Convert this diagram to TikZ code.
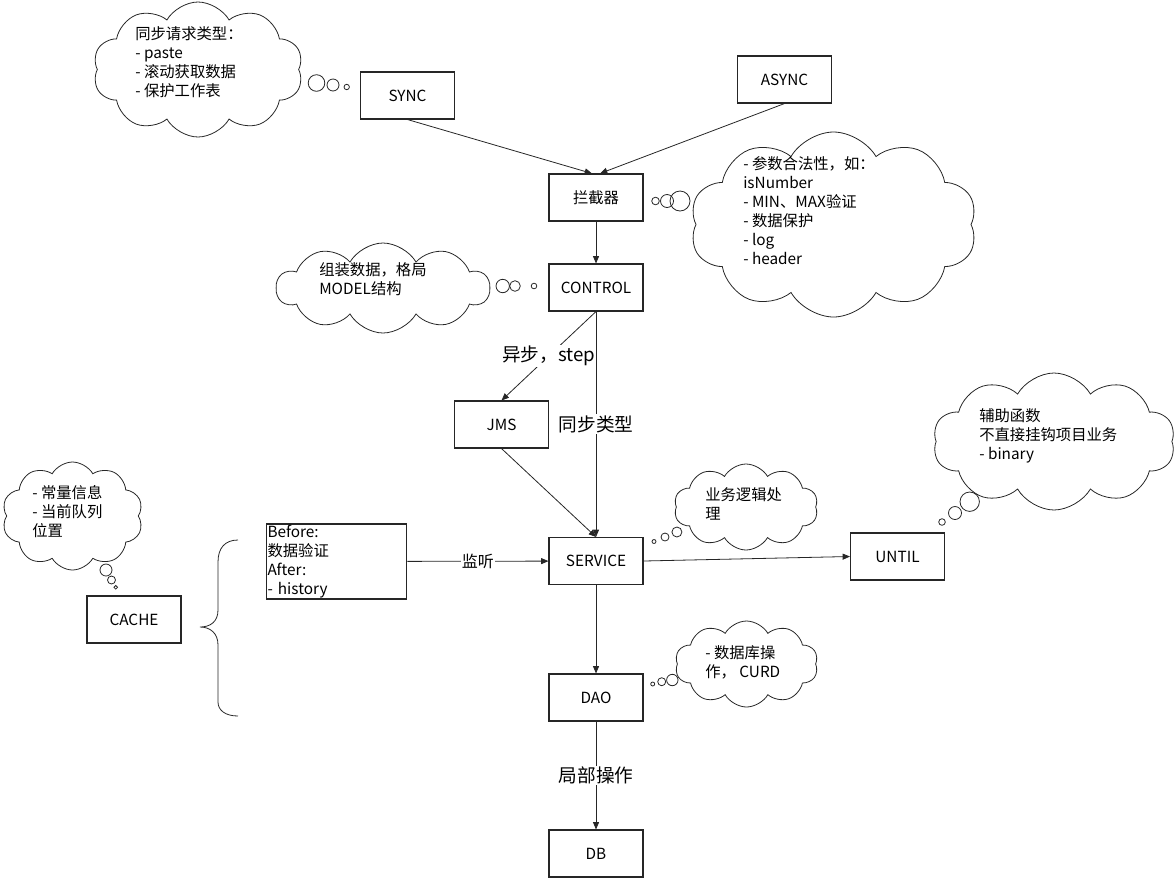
\documentclass[tikz,border=0pt]{standalone}
\usepackage{fontspec}
\setmainfont{Noto Sans CJK SC}
\usetikzlibrary{shapes.symbols,arrows.meta}
\begin{document}
\begin{tikzpicture}[x=0.75pt,y=-0.75pt,
  box/.style={draw=black!85,line width=0.8pt,minimum width=70.5pt,minimum height=35.25pt,inner sep=0pt,font=\fontsize{11.5pt}{14pt}\selectfont},
  thought/.style={cloud,cloud puffs=10,cloud puff arc=120,cloud ignores aspect,draw=black!85,line width=0.6pt,inner sep=0pt},
  ctext/.style={anchor=north west,inner sep=0pt,align=left,font=\fontsize{11.5pt}{14.3pt}\selectfont},
  bub/.style={draw=black!85,line width=0.6pt},
  conn/.style={draw=black!85,line width=0.6pt,-{Triangle[length=5.5pt,width=4.5pt]}},
  biglab/.style={fill=white,inner sep=1pt,font=\fontsize{14pt}{16pt}\selectfont},
]
\useasboundingbox (0,0) rectangle (1176,879);

% boxes
\node[box] (sync) at (407.5,95.5) {SYNC};
\node[box] (async) at (784.5,79.5) {ASYNC};
\node[box] (lan) at (596,197.5) {拦截器};
\node[box] (control) at (596,287.5) {CONTROL};
\node[box] (jms) at (501.5,424.5) {JMS};
\node[box] (service) at (596,561) {SERVICE};
\node[box] (until) at (897.5,556.5) {UNTIL};
\node[box] (cache) at (134,619.5) {CACHE};
\node[box] (dao) at (596,697.5) {DAO};
\node[box] (db) at (596,853.5) {DB};
\node[draw=black!85,line width=0.8pt,align=left,text width=103.5pt,inner xsep=1pt,inner ysep=0pt,minimum height=56.25pt,font=\fontsize{11.5pt}{14.25pt}\selectfont] (hook) at (336.5,561.5) {Before:\\数据验证\\After:\\- history};

% connectors
\draw[conn] (sync.south) -- ([xshift=-3pt]lan.north);
\draw[conn] (async.south) -- ([xshift=3pt]lan.north);
\draw[conn] (lan) -- (control);
\draw[conn] (control.south) -- node[biglab]{异步，step} (jms.north);
\draw[conn] (control) -- node[biglab]{同步类型} (service);
\draw[conn] (jms.south) -- (service.north);
\draw[conn] (hook) -- node[fill=white,inner sep=0.5pt,font=\fontsize{12pt}{14pt}\selectfont]{监听} (service);
\draw[conn] (service.east) -- (until.west);
\draw[conn] (service) -- (dao);
\draw[conn] (dao) -- node[biglab]{局部操作} (db);

% brace
\draw[black!85,line width=0.6pt] (238,540) .. controls (225,540) and (218,548) .. (218,562) -- (218,610) .. controls (218,622) and (210,627) .. (200,627) .. controls (210,627) and (218,633) .. (218,645) -- (218,702) .. controls (218,710) and (225,716) .. (238,716);

% clouds
\node[thought,minimum width=157.5pt,minimum height=101.25pt] (c1) at (198,69.5) {};
\node[ctext] (t1) at (135,26) {同步请求类型：\\- paste\\- 滚动获取数据\\- 保护工作表};
\draw[bub] (316.5,83) circle[radius=8.3];
\draw[bub] (333,85) circle[radius=6];
\draw[bub] (346.7,87) circle[radius=2.7];

\node[thought,minimum width=215.25pt,minimum height=138.75pt] (c2) at (833.5,224.5) {};
\node[ctext] (t2) at (743,156) {- 参数合法性，如：\\isNumber\\- MIN、MAX验证\\- 数据保护\\- log\\- header};
\draw[bub] (655.5,201) circle[radius=3.8];
\draw[bub] (667,201) circle[radius=6.5];
\draw[bub] (680,201) circle[radius=10];

\node[thought,minimum width=159.75pt,minimum height=67.5pt] (c3) at (383,288) {};
\node[ctext] (t3) at (319,262) {组装数据，格局\\MODEL结构};
\draw[bub] (502.7,286) circle[radius=6.7];
\draw[bub] (515,286) circle[radius=5.3];
\draw[bub] (534,286) circle[radius=2.8];

\node[thought,minimum width=105.75pt,minimum height=81pt] (c4) at (72.5,516) {};
\node[ctext] (t4) at (32,485) {- 常量信息\\- 当前队列\\位置};
\draw[bub] (106,570) circle[radius=6];
\draw[bub] (111.5,580) circle[radius=4];
\draw[bub] (115.7,587.3) circle[radius=1.8];

\node[thought,minimum width=108pt,minimum height=64.5pt] (c5) at (746,507) {};
\node[ctext] (t5) at (705,487) {业务逻辑处\\理};
\draw[bub] (676.9,532) circle[radius=5];
\draw[bub] (665,537) circle[radius=4];
\draw[bub] (654,541.5) circle[radius=2];

\node[thought,minimum width=181.5pt,minimum height=102.75pt] (c6) at (1054,441.5) {};
\node[ctext] (t6) at (979,408) {辅助函数\\不直接挂钩项目业务\\- binary};
\draw[bub] (969.7,501.7) circle[radius=9.7];
\draw[bub] (955,513) circle[radius=6.5];
\draw[bub] (942,522) circle[radius=3.3];

\node[thought,minimum width=107.25pt,minimum height=64.5pt] (c7) at (746.5,664) {};
\node[ctext] (t7) at (705,645) {- 数据库操\\作， CURD};
\draw[bub] (672.3,680) circle[radius=5.7];
\draw[bub] (661.7,681.7) circle[radius=4];
\draw[bub] (652.7,684) circle[radius=2];
\end{tikzpicture}
\end{document}
